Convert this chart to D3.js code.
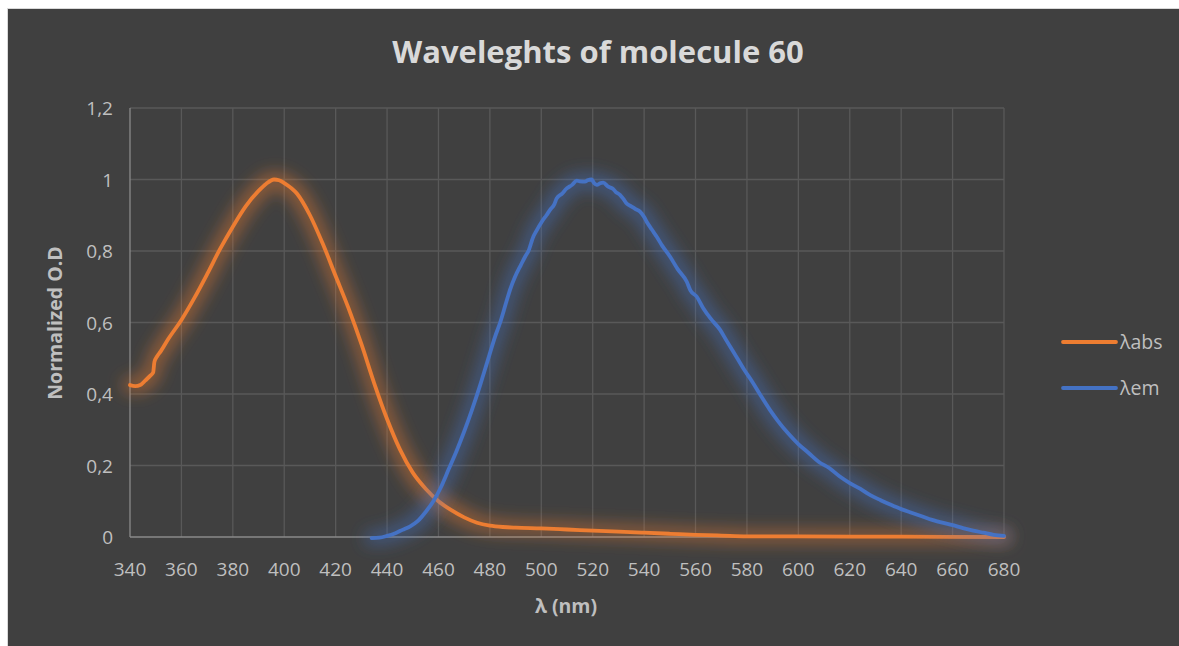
<!DOCTYPE html>
<html><head><meta charset="utf-8">
<script src="https://cdn.jsdelivr.net/npm/d3@7"></script>
<style>body{margin:0;background:#fff;}svg{display:block;}</style>
</head><body>
<script>
const title = "Waveleghts of molecule 60";
const xTicks = [340,360,380,400,420,440,460,480,500,520,540,560,580,600,620,640,660,680];
const yTicks = [0,0.2,0.4,0.6,0.8,1,1.2];
const yTickLabels = ["0","0,2","0,4","0,6","0,8","1","1,2"];
const seriesNames = ["λabs","λem"];

const absWl = [340,342,344,346,348,349,349.5,350.5,352,355,360,365,370,375,380,385,390,393,396,398,400,405,410,415,420,425,430,435,440,445,450,455,460,465,470,475,480,485,490,500,510,520,530,540,550,560,570,580,600,640,680];
const absVal = [0.425,0.422,0.425,0.438,0.452,0.46,0.49,0.505,0.52,0.555,0.607,0.668,0.735,0.805,0.868,0.925,0.968,0.988,1.0,0.998,0.99,0.96,0.90,0.82,0.73,0.64,0.54,0.43,0.33,0.245,0.18,0.135,0.10,0.075,0.055,0.04,0.032,0.028,0.026,0.024,0.021,0.018,0.015,0.012,0.009,0.006,0.004,0.002,0.0015,0.001,0];

const emWl = [434,437,440,443,446,449,452,455,458,461,464,467,470,473,476,479,482,484,486.5,488,489.8,492,493.7,495,496.9,498,500.2,502,503.4,505,506,508,509.9,512,513.8,515,517,518,519.6,520.5,521.6,523,524.1,526,528,529,530.6,532,533.2,535,536.5,538.4,540,541,543,544.9,547,550.1,553,556.6,558,560.5,563,566,569.5,572,575,579,582,585,589,592,596,600,604,608,612,616,620,624,628,632,636,640,644,648,652,656,660,664,668,672,676,680];
const emVal = [-0.003,-0.002,0.003,0.01,0.02,0.03,0.045,0.07,0.10,0.14,0.19,0.24,0.295,0.355,0.42,0.49,0.56,0.60,0.66,0.695,0.728,0.76,0.784,0.80,0.84,0.855,0.882,0.90,0.915,0.93,0.947,0.96,0.975,0.985,0.997,0.995,0.994,0.998,1.0,0.99,0.985,0.99,0.991,0.98,0.973,0.965,0.957,0.945,0.933,0.925,0.918,0.91,0.895,0.882,0.86,0.84,0.815,0.784,0.75,0.714,0.69,0.672,0.64,0.61,0.58,0.55,0.515,0.467,0.435,0.40,0.355,0.325,0.29,0.26,0.235,0.21,0.193,0.17,0.151,0.135,0.117,0.103,0.09,0.078,0.068,0.058,0.048,0.04,0.033,0.025,0.018,0.012,0.006,0.003];

const colors = ["#ED7D31","#4472C4"];
const W = 1179, H = 646;
const font = "'Open Sans', 'Noto Sans', sans-serif";
const svg = d3.select("body").append("svg").attr("width",W).attr("height",H);

svg.append("rect").attr("x",7.5).attr("y",8.5).attr("width",W).attr("height",H)
  .attr("fill","#404040").attr("stroke","#d9d9d9").attr("stroke-width",1);

const x = d3.scaleLinear().domain([340,680]).range([130,1004]);
const y = d3.scaleLinear().domain([0,1.2]).range([537,108]);

const defs = svg.append("defs");
colors.forEach((c,i)=>{
  const f = defs.append("filter").attr("id","glow"+i).attr("filterUnits","userSpaceOnUse")
    .attr("x",0).attr("y",0).attr("width",W).attr("height",H);
  f.append("feMorphology").attr("in","SourceAlpha").attr("operator","dilate").attr("radius",5).attr("result","d");
  f.append("feGaussianBlur").attr("in","d").attr("stdDeviation",8).attr("result","b");
  f.append("feFlood").attr("flood-color",c).attr("flood-opacity",0.45).attr("result","c");
  f.append("feComposite").attr("in","c").attr("in2","b").attr("operator","in").attr("result","g");
  const m = f.append("feMerge");
  m.append("feMergeNode").attr("in","g");
  m.append("feMergeNode").attr("in","SourceGraphic");
});

// gridlines
const grid = svg.append("g");
grid.selectAll(".gx").data(xTicks.slice(1)).enter().append("line")
  .attr("x1",d=>x(d)).attr("x2",d=>x(d)).attr("y1",y(1.2)).attr("y2",y(0))
  .attr("stroke","#595959").attr("stroke-width",1.3);
grid.selectAll(".gy").data(yTicks.slice(1)).enter().append("line")
  .attr("x1",x(340)).attr("x2",x(680)).attr("y1",d=>y(d)).attr("y2",d=>y(d))
  .attr("stroke","#595959").attr("stroke-width",1.3);
// axis lines
svg.append("line").attr("x1",x(340)).attr("x2",x(340)).attr("y1",y(1.2)).attr("y2",y(0)).attr("stroke","#8a8a8a").attr("stroke-width",1.3);
svg.append("line").attr("x1",x(340)).attr("x2",x(680)).attr("y1",y(0)).attr("y2",y(0)).attr("stroke","#8a8a8a").attr("stroke-width",1.3);

// tick labels
svg.selectAll(".xt").data(xTicks).enter().append("text")
  .attr("x",d=>x(d)).attr("y",576).attr("text-anchor","middle")
  .attr("font-family",font).attr("font-size",19).attr("fill","#bfbfbf").text(d=>d);
svg.selectAll(".yt").data(yTicks).enter().append("text")
  .attr("x",113).attr("y",d=>y(d)+7).attr("text-anchor","end")
  .attr("font-family",font).attr("font-size",19).attr("fill","#bfbfbf").text((d,i)=>yTickLabels[i]);

// lines
const line = d3.line().x(d=>x(d[0])).y(d=>y(d[1])).curve(d3.curveMonotoneX);
const series = [d3.zip(absWl,absVal), d3.zip(emWl,emVal)];
series.forEach((s,i)=>{
  svg.append("path").datum(s).attr("d",line).attr("fill","none")
    .attr("stroke",colors[i]).attr("stroke-width",3.8).attr("stroke-linejoin","round").attr("stroke-linecap","round")
    .attr("filter","url(#glow"+i+")");
});

// title
svg.append("text").attr("x",598).attr("y",63).attr("text-anchor","middle")
  .attr("font-family",font).attr("font-weight","bold").attr("font-size",31).attr("fill","#d9d9d9").text(title);
// axis titles
svg.append("text").attr("x",566).attr("y",613).attr("text-anchor","middle")
  .attr("font-family",font).attr("font-weight","bold").attr("font-size",19.5).attr("fill","#bfbfbf").text("λ (nm)");
svg.append("text").attr("transform","translate(62,323) rotate(-90)").attr("text-anchor","middle")
  .attr("font-family",font).attr("font-weight","bold").attr("font-size",19.5).attr("fill","#bfbfbf").text("Normalized O.D");

// legend
const leg = svg.append("g");
seriesNames.forEach((n,i)=>{
  const ly = 342 + i*46;
  leg.append("line").attr("x1",1063).attr("x2",1116).attr("y1",ly).attr("y2",ly)
    .attr("stroke",colors[i]).attr("stroke-width",3.8).attr("stroke-linecap","round");
  leg.append("text").attr("x",1120).attr("y",ly+7).attr("font-family",font)
    .attr("font-size",19.5).attr("fill","#bfbfbf").text(n);
});
</script>
</body></html>
